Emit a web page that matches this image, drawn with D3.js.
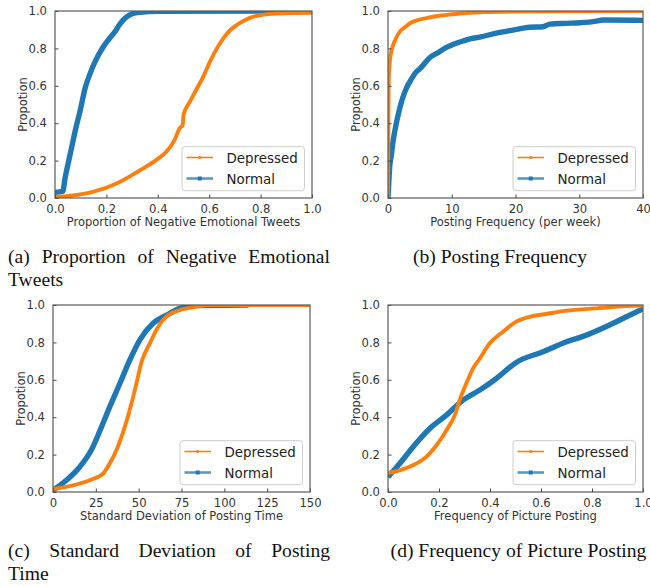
<!DOCTYPE html>
<html>
<head>
<meta charset="utf-8">
<script src="https://cdn.jsdelivr.net/npm/d3@7"></script>
<style>
  html, body { margin: 0; padding: 0; background: #fff; }
  svg { display: block; }
  .tick-label { font-family: "DejaVu Sans", sans-serif; font-size: 11.6px; fill: #333; }
  .axis-label { font-family: "DejaVu Sans", sans-serif; font-size: 11.5px; fill: #333; }
  .legend-text { font-family: "DejaVu Sans", sans-serif; font-size: 13.4px; fill: #222; }
  .caption { font-family: "Liberation Serif", "Times New Roman", serif; font-size: 19.6px; fill: #111; }
</style>
</head>
<body>
<svg id="fig" width="650" height="586"></svg>
<script>
// ECDF samples, [value, cumulative proportion]
const negEmoDepressed = [[0,0.005],[0.06,0.012],[0.15,0.034],[0.24,0.078],[0.33,0.148],[0.396,0.205],[0.435,0.25],[0.465,0.31],[0.486,0.375],[0.497,0.39],[0.5,0.444],[0.525,0.515],[0.55,0.58],[0.577,0.649],[0.603,0.729],[0.63,0.8],[0.655,0.854],[0.68,0.895],[0.707,0.925],[0.74,0.952],[0.772,0.97],[0.82,0.982],[0.86,0.987],[1,0.99]];
const negEmoNormal = [[0,0.03],[0.03,0.035],[0.039,0.105],[0.06,0.24],[0.078,0.355],[0.1,0.48],[0.117,0.587],[0.135,0.66],[0.156,0.729],[0.188,0.809],[0.21,0.85],[0.233,0.889],[0.25,0.925],[0.272,0.961],[0.3,0.985],[0.331,0.993],[0.4,0.998],[1,1]];

const postFreqDepressed = [[0,0],[0.05,0.35],[0.1,0.6],[0.2,0.69],[0.3,0.735],[0.5,0.78],[0.78,0.815],[1.2,0.85],[1.84,0.889],[2.9,0.92],[3.4,0.934],[4.5,0.95],[6,0.962],[7.5,0.972],[9.2,0.979],[11.8,0.988],[14.4,0.993],[20,0.997],[30,0.999],[40,1]];
const postFreqNormal = [[0,0],[0.15,0.1],[0.27,0.167],[0.53,0.23],[0.78,0.3],[1.05,0.355],[1.84,0.48],[2.88,0.587],[3.4,0.62],[4.45,0.675],[4.97,0.69],[6.54,0.75],[8,0.78],[9.16,0.805],[10.5,0.825],[11.8,0.84],[13,0.852],[14.4,0.86],[17,0.882],[19.6,0.898],[22.2,0.913],[24.3,0.916],[25.4,0.93],[28,0.934],[30.1,0.937],[32.7,0.946],[33.7,0.952],[40,0.95]];

const timeStdDepressed = [[0,0.016],[11.7,0.036],[21.4,0.063],[29.2,0.098],[33.1,0.152],[37,0.223],[41.9,0.348],[45.8,0.473],[48.7,0.58],[51.7,0.696],[56.5,0.795],[61.4,0.884],[67.2,0.946],[74,0.973],[83.8,0.991],[92,1],[150,1]];
const timeStdNormal = [[0,0.01],[7.8,0.063],[15.6,0.134],[22.3,0.223],[28.3,0.348],[33.1,0.455],[39,0.58],[44.8,0.705],[50.7,0.813],[58.4,0.902],[66.3,0.946],[74,0.982],[83.8,0.997],[114,1]];

const pictureDepressed = [[0,0.102],[0.046,0.116],[0.098,0.143],[0.15,0.188],[0.19,0.25],[0.209,0.286],[0.229,0.33],[0.262,0.411],[0.281,0.491],[0.307,0.58],[0.333,0.66],[0.36,0.714],[0.399,0.795],[0.451,0.857],[0.503,0.911],[0.556,0.937],[0.621,0.952],[0.686,0.967],[0.817,0.982],[0.935,0.995],[1,0.997]];
const pictureNormal = [[0,0.08],[0.046,0.152],[0.098,0.241],[0.164,0.34],[0.229,0.411],[0.294,0.491],[0.36,0.545],[0.425,0.607],[0.503,0.693],[0.608,0.75],[0.7,0.803],[0.778,0.839],[0.869,0.893],[0.935,0.937],[1,0.98]];

// Tick values
const ticksProportion = [0, 0.2, 0.4, 0.6, 0.8, 1.0];
const ticksPostFreq = [0, 10, 20, 30, 40];
const ticksTimeStd = [0, 25, 50, 75, 100, 125, 150];

// Text
const seriesNames = ["Depressed", "Normal"];
const yLabel = "Propotion";
const xLabels = ["Proportion of Negative Emotional Tweets", "Posting Frequency (per week)", "Standard Deviation of Posting Time", "Frequency of Picture Posting"];
const captions = [
  ["(a) Proportion of Negative Emotional", "Tweets"],
  ["(b) Posting Frequency"],
  ["(c) Standard Deviation of Posting", "Time"],
  ["(d) Frequency of Picture Posting"]
];

const colors = { dep: "#ff7f0e", nor: "#1f77b4" };
const svg = d3.select("#fig");

const panels = [
  { box: [55, 312, 11, 198], xDomain: [0, 1], xTicks: ticksProportion, xFmt: d3.format(".1f"), dep: negEmoDepressed, nor: negEmoNormal },
  { box: [388, 643, 11, 198], xDomain: [0, 40], xTicks: ticksPostFreq, xFmt: d3.format("d"), dep: postFreqDepressed, nor: postFreqNormal },
  { box: [53, 310, 305, 492], xDomain: [0, 150], xTicks: ticksTimeStd, xFmt: d3.format("d"), dep: timeStdDepressed, nor: timeStdNormal },
  { box: [388, 643, 305, 492], xDomain: [0, 1], xTicks: ticksProportion, xFmt: d3.format(".1f"), dep: pictureDepressed, nor: pictureNormal }
];

panels.forEach((p, i) => {
  const [l, r, t, b] = p.box;
  const x = d3.scaleLinear().domain(p.xDomain).range([l, r]);
  const y = d3.scaleLinear().domain([0, 1]).range([b, t]);
  const g = svg.append("g");

  const clipId = "clip" + i;
  svg.append("clipPath").attr("id", clipId)
    .append("rect").attr("x", l).attr("y", t).attr("width", r - l).attr("height", b - t);

  const line = d3.line().x(d => x(d[0])).y(d => y(d[1])).curve(d3.curveMonotoneX);
  const plot = g.append("g").attr("clip-path", `url(#${clipId})`);
  plot.append("path").datum(p.nor).attr("d", line)
    .attr("fill", "none").attr("stroke", colors.nor).attr("stroke-width", 5.4)
    .attr("stroke-linejoin", "round");
  plot.append("path").datum(p.dep).attr("d", line)
    .attr("fill", "none").attr("stroke", colors.dep).attr("stroke-width", 3.9)
    .attr("stroke-linejoin", "round");

  // Axes with inward ticks
  const xAxis = d3.axisBottom(x).tickValues(p.xTicks).tickFormat(p.xFmt).tickSizeInner(-3.5).tickSizeOuter(0).tickPadding(7);
  const yAxis = d3.axisLeft(y).tickValues(ticksProportion).tickFormat(d3.format(".1f")).tickSizeInner(-3.5).tickSizeOuter(0).tickPadding(8);
  const gx = g.append("g").attr("transform", `translate(0,${b})`).call(xAxis);
  const gy = g.append("g").attr("transform", `translate(${l},0)`).call(yAxis);
  [gx, gy].forEach(a => {
    a.select(".domain").remove();
    a.selectAll(".tick line").attr("stroke", "#444").attr("stroke-width", 1);
    a.selectAll(".tick text").attr("class", "tick-label").attr("font-size", null).attr("font-family", null).attr("fill", null);
  });

  // Frame
  g.append("rect").attr("x", l).attr("y", t).attr("width", r - l).attr("height", b - t)
    .attr("fill", "none").attr("stroke", "#5a5a5a").attr("stroke-width", 1.2);

  // Axis labels
  g.append("text").attr("class", "axis-label").attr("text-anchor", "middle")
    .attr("x", (l + r) / 2).attr("y", b + 28).text(xLabels[i]);
  g.append("text").attr("class", "axis-label").attr("text-anchor", "middle")
    .attr("transform", `translate(${l - 28},${(t + b) / 2}) rotate(-90)`).text(yLabel);

  // Legend
  const lw = 122.5, lh = 44;
  const lx = r - 7.5 - lw, ly = b - 7.3 - lh;
  const lg = g.append("g");
  lg.append("rect").attr("x", lx).attr("y", ly).attr("width", lw).attr("height", lh).attr("rx", 3)
    .attr("fill", "#fff").attr("fill-opacity", 0.85).attr("stroke", "#ccc").attr("stroke-width", 1);
  const rows = [
    { name: seriesNames[0], color: colors.dep, w: 1.6, op: 1, marker: "circle" },
    { name: seriesNames[1], color: colors.nor, w: 2.6, op: 0.75, marker: "square" }
  ];
  rows.forEach((row, k) => {
    const yy = ly + 10.8 + k * 21;
    lg.append("line").attr("x1", lx + 4.5).attr("x2", lx + 31).attr("y1", yy).attr("y2", yy)
      .attr("stroke", row.color).attr("stroke-width", row.w).attr("stroke-opacity", row.op);
    if (row.marker === "circle") {
      lg.append("circle").attr("cx", lx + 17.75).attr("cy", yy).attr("r", 1.6).attr("fill", row.color);
    } else {
      lg.append("rect").attr("x", lx + 15.75).attr("y", yy - 2).attr("width", 4).attr("height", 4).attr("fill", row.color);
    }
    lg.append("text").attr("class", "legend-text").attr("x", lx + 44.5).attr("y", yy + 5).text(row.name);
  });
});

// Captions; multi-line ones are justified across the column
function justified(words, x0, x1, baseline) {
  const nodes = words.map(w => svg.append("text").attr("class", "caption").attr("y", baseline).text(w));
  const widths = nodes.map(n => n.node().getComputedTextLength());
  const gap = (x1 - x0 - d3.sum(widths)) / (words.length - 1);
  let cx = x0;
  nodes.forEach((n, k) => { n.attr("x", cx); cx += widths[k] + gap; });
}
function centered(textStr, cx, baseline) {
  svg.append("text").attr("class", "caption").attr("text-anchor", "middle").attr("x", cx).attr("y", baseline).text(textStr);
}
justified(captions[0][0].split(" "), 8, 330, 263);
svg.append("text").attr("class", "caption").attr("x", 8).attr("y", 286).text(captions[0][1]);
centered(captions[1][0], 500, 263);
justified(captions[2][0].split(" "), 8, 330, 557);
svg.append("text").attr("class", "caption").attr("x", 8).attr("y", 580).text(captions[2][1]);
centered(captions[3][0], 518.5, 557);
</script>
</body>
</html>
